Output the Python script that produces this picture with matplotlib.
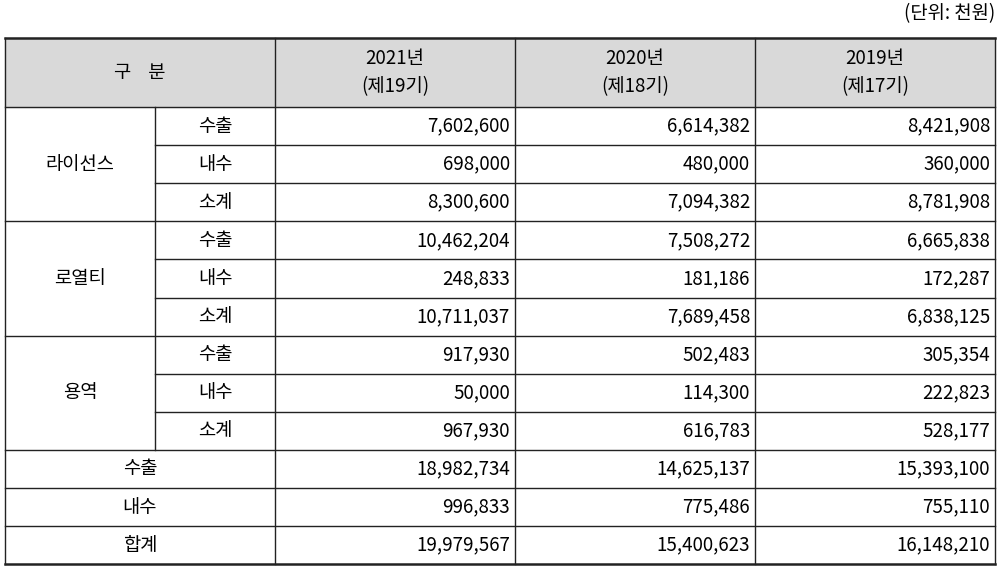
import matplotlib.pyplot as plt

plt.rcParams["font.family"] = ["Noto Sans CJK JP", "Noto Sans CJK KR", "Noto Sans CJK SC",
                               "Noto Sans CJK TC", "DejaVu Sans"]

years = ["2021년\n(제19기)", "2020년\n(제18기)", "2019년\n(제17기)"]
groups = ["라이선스", "로열티", "용역"]
subs = ["수출", "내수", "소계"]
license_vals = [[7602600, 6614382, 8421908], [698000, 480000, 360000], [8300600, 7094382, 8781908]]
royalty_vals = [[10462204, 7508272, 6665838], [248833, 181186, 172287], [10711037, 7689458, 6838125]]
service_vals = [[917930, 502483, 305354], [50000, 114300, 222823], [967930, 616783, 528177]]
total_labels = ["수출", "내수", "합계"]
total_vals = [[18982734, 14625137, 15393100], [996833, 775486, 755110], [19979567, 15400623, 16148210]]

W, H = 999, 568
fig = plt.figure(figsize=(W / 100, H / 100), dpi=100)
ax = fig.add_axes([0, 0, 1, 1])
ax.set_xlim(0, W)
ax.set_ylim(H, 0)
ax.axis("off")

xs = [5, 155, 275, 515, 755, 995]
top, head_bot, row_h = 38, 107, 38.1
fs = 13.5
lc = "#222222"

ax.fill_between([xs[0], xs[-1]], top, head_bot, color="#d9d9d9", zorder=0)
ax.text(995, 14, "(단위: 천원)", ha="right", va="center", fontsize=fs)
ax.text((xs[0] + xs[2]) / 2, (top + head_bot) / 2, "구    분", ha="center", va="center", fontsize=fs)
for i, y in enumerate(years):
    ax.text((xs[i + 2] + xs[i + 3]) / 2, (top + head_bot) / 2, y, ha="center", va="center",
            fontsize=fs, linespacing=1.4)

rows = []
for g, vals in zip(groups, [license_vals, royalty_vals, service_vals]):
    for s, v in zip(subs, vals):
        rows.append((g, s, v))
for s, v in zip(total_labels, total_vals):
    rows.append((None, s, v))

for r, (g, s, v) in enumerate(rows):
    y0 = head_bot + r * row_h
    yc = y0 + row_h / 2
    if g is not None:
        ax.text((xs[1] + xs[2]) / 2, yc, s, ha="center", va="center", fontsize=fs)
        if r % 3 == 1:
            ax.text((xs[0] + xs[1]) / 2, yc, g, ha="center", va="center", fontsize=fs)
        left = xs[1] if r % 3 else xs[0]
    else:
        ax.text((xs[0] + xs[2]) / 2, yc, s, ha="center", va="center", fontsize=fs)
        left = xs[0]
    for i, val in enumerate(v):
        ax.text(xs[i + 3] - 5, yc, f"{val:,}", ha="right", va="center", fontsize=fs)
    ax.plot([left, xs[-1]], [y0, y0], color=lc, lw=1)

bottom = head_bot + len(rows) * row_h
ax.plot([xs[0], xs[-1]], [top, top], color=lc, lw=1.8)
ax.plot([xs[0], xs[-1]], [bottom, bottom], color=lc, lw=1.8)
ax.plot([xs[0], xs[0]], [top, bottom], color=lc, lw=1)
ax.plot([xs[-1], xs[-1]], [top, bottom], color=lc, lw=1)
for x in xs[2:-1]:
    ax.plot([x, x], [top, bottom], color=lc, lw=1)
ax.plot([xs[1], xs[1]], [head_bot, head_bot + 9 * row_h], color=lc, lw=1)

fig.savefig("out.png", dpi=100)
